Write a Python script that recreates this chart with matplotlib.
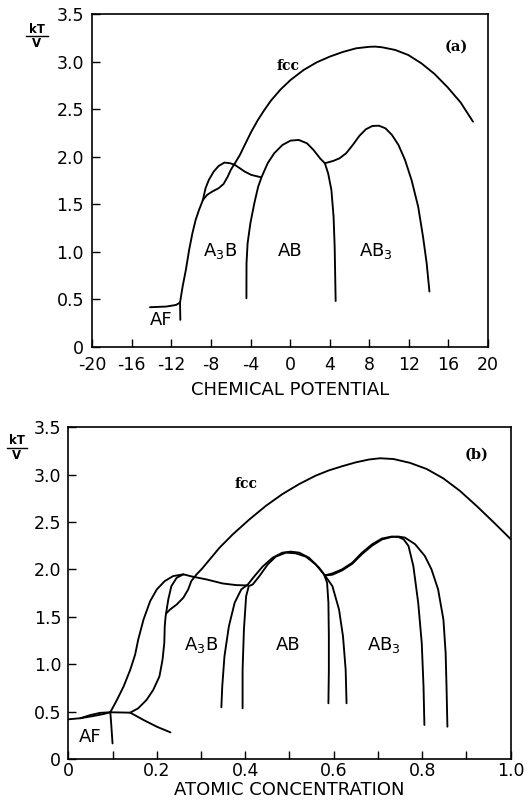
import matplotlib
matplotlib.use('Agg')
import matplotlib.pyplot as plt
from matplotlib.lines import Line2D

plt.rcParams['font.family'] = ['DejaVu Sans']
plt.rcParams['axes.unicode_minus'] = False

# ---------------- Panel (a): chemical potential ----------------
a_af_x = [-14.17, -12.52, -11.53, -11.13]
a_af_y = [0.415, 0.422, 0.439, 0.464]
a_tick_x = [-11.13, -11.10]
a_tick_y = [0.464, 0.282]
a_lower_x = [-11.13, -10.87, -10.54, -10.21, -9.88, -9.55, -9.21, -8.88, -8.82]
a_lower_y = [0.464, 0.632, 0.808, 1.018, 1.193, 1.334, 1.439, 1.526, 1.544]
a_outer_x = [-8.82, -8.55, -8.22, -7.73, -7.23, -6.64, -6.07, -5.58, -5.08, -4.59,
             -3.92, -2.93]
a_outer_y = [1.544, 1.667, 1.754, 1.842, 1.901, 1.937, 1.930, 1.912, 1.877, 1.842,
             1.807, 1.782]
a_fcc_x = [-8.82, -8.39, -7.89, -7.23, -6.73, -6.31, -5.97, -5.58, -5.08, -4.59,
           -3.92, -3.26, -2.60, -1.94, -0.95, 0.04, 1.36, 2.69, 4.01, 5.33, 6.66,
           7.98, 8.60, 9.30, 10.62, 11.94, 13.27, 14.59, 15.91, 17.23, 18.48]
a_fcc_y = [1.544, 1.597, 1.631, 1.667, 1.712, 1.789, 1.866, 1.930, 2.017, 2.122,
           2.263, 2.385, 2.491, 2.589, 2.708, 2.806, 2.911, 2.992, 3.052, 3.101,
           3.139, 3.155, 3.157, 3.150, 3.122, 3.069, 2.981, 2.870, 2.730, 2.570,
           2.368]
a_ab_x = [-4.42, -4.41, -4.30, -4.02, -3.62, -3.23, -2.87, -2.27, -1.61, -0.78,
          0.04, 0.87, 1.70, 2.36, 3.02, 3.51, 3.84, 4.17, 4.39, 4.50, 4.60]
a_ab_y = [0.509, 0.877, 1.088, 1.298, 1.509, 1.684, 1.789, 1.930, 2.035, 2.122,
          2.168, 2.175, 2.140, 2.070, 1.982, 1.930, 1.824, 1.649, 1.368, 1.053,
          0.480]
a_ab3_x = [3.51, 4.34, 5.00, 5.66, 6.33, 6.99, 7.65, 8.31, 8.97, 9.63, 10.29,
           10.95, 11.61, 12.27, 12.94, 13.43, 13.80, 14.08]
a_ab3_y = [1.930, 1.954, 1.982, 2.035, 2.122, 2.217, 2.287, 2.322, 2.325, 2.298,
           2.228, 2.122, 1.965, 1.754, 1.474, 1.158, 0.878, 0.580]

a_xticks = [-20, -16, -12, -8, -4, 0, 4, 8, 12, 16, 20]
a_xlabel = "CHEMICAL POTENTIAL"

# ---------------- Panel (b): atomic concentration ----------------
b_af1_x = [0.0, 0.027, 0.057, 0.080, 0.095]
b_af1_y = [0.419, 0.430, 0.454, 0.475, 0.493]
b_af2_x = [0.027, 0.050, 0.072, 0.095]
b_af2_y = [0.430, 0.464, 0.487, 0.493]
b_tick_x = [0.095, 0.097, 0.100]
b_tick_y = [0.493, 0.370, 0.164]
b_flat_x = [0.095, 0.140, 0.170, 0.200, 0.231]
b_flat_y = [0.493, 0.489, 0.412, 0.341, 0.281]
b_outer_x = [0.095, 0.110, 0.125, 0.140, 0.151, 0.158, 0.170, 0.185, 0.200, 0.218,
             0.237, 0.260, 0.282, 0.312, 0.349, 0.379, 0.406]
b_outer_y = [0.493, 0.624, 0.765, 0.941, 1.100, 1.259, 1.471, 1.665, 1.789, 1.877,
             1.930, 1.948, 1.923, 1.895, 1.852, 1.835, 1.831]
b_inner_x = [0.140, 0.158, 0.177, 0.192, 0.206, 0.213, 0.217, 0.218, 0.220, 0.221,
             0.226, 0.233, 0.245, 0.260]
b_inner_y = [0.489, 0.535, 0.624, 0.729, 0.871, 1.047, 1.224, 1.400, 1.506, 1.535,
             1.683, 1.824, 1.912, 1.948]
b_fcc_x = [0.221, 0.230, 0.245, 0.260, 0.271, 0.278, 0.290, 0.301, 0.320, 0.342,
           0.372, 0.410, 0.447, 0.484, 0.522, 0.559, 0.589, 0.620, 0.650, 0.680,
           0.705, 0.735, 0.772, 0.810, 0.848, 0.885, 0.923, 0.961, 1.0]
b_fcc_y = [1.535, 1.577, 1.630, 1.701, 1.789, 1.877, 1.948, 2.001, 2.107, 2.230,
           2.371, 2.530, 2.672, 2.795, 2.901, 2.989, 3.045, 3.090, 3.130, 3.160,
           3.173, 3.165, 3.125, 3.060, 2.960, 2.830, 2.670, 2.500, 2.320]
b_about_x = [0.346, 0.348, 0.353, 0.363, 0.376, 0.391, 0.406, 0.421, 0.439, 0.462,
             0.484, 0.503, 0.522, 0.544, 0.567, 0.580, 0.597, 0.612, 0.621, 0.627,
             0.629]
b_about_y = [0.546, 0.765, 1.083, 1.400, 1.648, 1.789, 1.842, 1.930, 2.029, 2.124,
             2.177, 2.188, 2.177, 2.124, 2.018, 1.937, 1.824, 1.577, 1.294, 0.941,
             0.588]
b_abin_x = [0.394, 0.394, 0.397, 0.402, 0.408, 0.417, 0.432, 0.451, 0.469, 0.492,
            0.514, 0.537, 0.559, 0.578, 0.585, 0.588, 0.589, 0.589, 0.588]
b_abin_y = [0.535, 0.941, 1.365, 1.718, 1.824, 1.842, 1.930, 2.054, 2.135, 2.177,
            2.170, 2.135, 2.054, 1.948, 1.860, 1.648, 1.294, 0.941, 0.588]
b_ab3in_x = [0.580, 0.597, 0.619, 0.642, 0.664, 0.687, 0.709, 0.731, 0.746, 0.758,
             0.769, 0.780, 0.791, 0.799, 0.803, 0.805]
b_ab3in_y = [1.937, 1.958, 2.001, 2.071, 2.177, 2.266, 2.326, 2.347, 2.343, 2.318,
             2.248, 2.036, 1.648, 1.224, 0.765, 0.359]
b_ab3out_x = [0.580, 0.597, 0.619, 0.642, 0.664, 0.687, 0.709, 0.731, 0.746, 0.761,
              0.784, 0.806, 0.821, 0.836, 0.848, 0.853, 0.855, 0.857]
b_ab3out_y = [1.937, 1.944, 1.990, 2.060, 2.162, 2.252, 2.316, 2.343, 2.347, 2.336,
              2.266, 2.142, 2.001, 1.789, 1.471, 1.118, 0.765, 0.341]

b_xticks = [0, 0.1, 0.2, 0.3, 0.4, 0.5, 0.6, 0.7, 0.8, 0.9, 1.0]
b_xticklabels = ['0', '', '0.2', '', '0.4', '', '0.6', '', '0.8', '', '1.0']
b_xlabel = "ATOMIC CONCENTRATION"

yticks = [0, 0.5, 1.0, 1.5, 2.0, 2.5, 3.0, 3.5]
yticklabels = ['0', '0.5', '1.0', '1.5', '2.0', '2.5', '3.0', '3.5']

fig = plt.figure(figsize=(5.27, 8.06), dpi=100)
axa = fig.add_axes([0.1751, 0.5699, 0.7509, 0.4127])
axb = fig.add_axes([0.1296, 0.0583, 0.8394, 0.4116])

LW = 1.35
a_curves = [(a_af_x, a_af_y), (a_tick_x, a_tick_y), (a_lower_x, a_lower_y),
            (a_outer_x, a_outer_y), (a_fcc_x, a_fcc_y), (a_ab_x, a_ab_y),
            (a_ab3_x, a_ab3_y)]
for xs, ys in a_curves:
    axa.plot(xs, ys, color='black', lw=LW, solid_capstyle='round',
             solid_joinstyle='round')

b_curves = [(b_af1_x, b_af1_y), (b_af2_x, b_af2_y), (b_tick_x, b_tick_y),
            (b_flat_x, b_flat_y), (b_outer_x, b_outer_y), (b_inner_x, b_inner_y),
            (b_fcc_x, b_fcc_y), (b_abin_x, b_abin_y), (b_about_x, b_about_y),
            (b_ab3in_x, b_ab3in_y), (b_ab3out_x, b_ab3out_y)]
for xs, ys in b_curves:
    axb.plot(xs, ys, color='black', lw=LW, solid_capstyle='round',
             solid_joinstyle='round')

TFS = 12.5
for ax in (axa, axb):
    ax.set_ylim(0, 3.5)
    ax.set_yticks(yticks)
    ax.set_yticklabels(yticklabels)
    ax.tick_params(direction='in', length=6, width=1.0, labelsize=TFS)
    for s in ax.spines.values():
        s.set_linewidth(1.2)

axa.set_xlim(-20, 20)
axa.set_xticks(a_xticks)
axa.set_xticklabels([str(v) for v in a_xticks])
axa.tick_params(axis='x', pad=7)
axa.tick_params(axis='y', pad=6)
axa.set_xlabel(a_xlabel, fontsize=13, labelpad=5)

axb.set_xlim(0, 1.0)
axb.set_xticks(b_xticks)
axb.set_xticklabels(b_xticklabels)
axb.tick_params(axis='x', pad=2)
axb.tick_params(axis='y', pad=5)
axb.set_xlabel(b_xlabel, fontsize=13, labelpad=1)

# Region labels (baseline positions)
lab_fs = 13
axa.text(-7.1, 0.95, r'A$_3$B', fontsize=lab_fs, ha='center', va='baseline')
axa.text(-0.03, 0.95, 'AB', fontsize=lab_fs, ha='center', va='baseline')
axa.text(8.7, 0.95, r'AB$_3$', fontsize=lab_fs, ha='center', va='baseline')
axa.text(-13.0, 0.225, 'AF', fontsize=lab_fs, ha='center', va='baseline')
axa.text(-0.2, 2.95, 'fcc', fontsize=10, ha='center', va='center',
         family='DejaVu Serif', fontweight='bold')
axa.text(16.8, 3.16, '(a)', fontsize=10.5, ha='center', va='center',
         family='DejaVu Serif', fontweight='bold')

axb.text(0.300, 1.153, r'A$_3$B', fontsize=lab_fs, ha='center', va='baseline')
axb.text(0.496, 1.153, 'AB', fontsize=lab_fs, ha='center', va='baseline')
axb.text(0.713, 1.153, r'AB$_3$', fontsize=lab_fs, ha='center', va='baseline')
axb.text(0.050, 0.182, 'AF', fontsize=lab_fs, ha='center', va='baseline')
axb.text(0.402, 2.90, 'fcc', fontsize=10, ha='center', va='center',
         family='DejaVu Serif', fontweight='bold')
axb.text(0.923, 3.21, '(b)', fontsize=10.5, ha='center', va='center',
         family='DejaVu Serif', fontweight='bold')

# kT/V fraction labels (pixel positions converted to figure fractions)
W, H = 527.0, 806.0
def frac_label(cx, ytop, yline, ybot, half):
    fig.text(cx / W, 1 - ytop / H, 'kT', fontsize=8.5, fontweight='bold',
             ha='center', va='center')
    fig.add_artist(Line2D([(cx - half) / W, (cx + half) / W],
                          [1 - yline / H, 1 - yline / H], color='black', lw=1.0,
                          transform=fig.transFigure))
    fig.text(cx / W, 1 - ybot / H, 'V', fontsize=8.5, fontweight='bold',
             ha='center', va='center')

frac_label(37, 29.5, 36, 43.5, 11)
frac_label(16.5, 441, 448, 455.5, 10)

fig.savefig('out.png', dpi=100)
